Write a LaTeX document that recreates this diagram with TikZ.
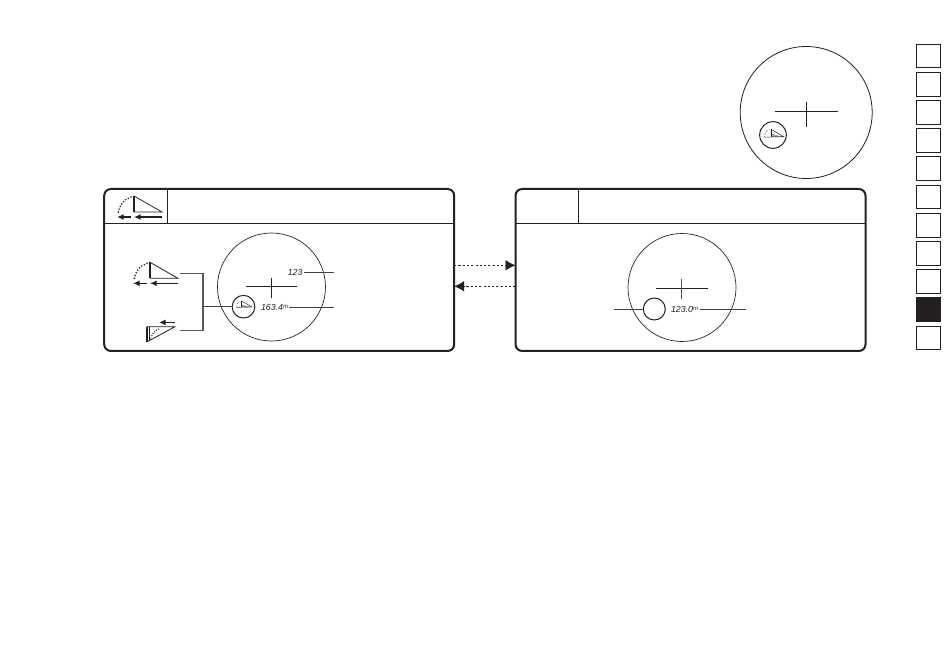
\documentclass[tikz,border=0pt]{standalone}
\usepackage{fontspec}
\setmainfont{Liberation Sans}
\usetikzlibrary{arrows.meta,calc}
\definecolor{ink}{HTML}{231F20}
\tikzset{
  x=0.75pt,y=-0.75pt,
  every node/.style={inner sep=0pt,outer sep=0pt},
  frameboxx/.style={draw=ink,line width=1.5pt,rounded corners=5pt,minimum width=262.5pt,minimum height=121.5pt},
  tabbox/.style={draw=ink,line width=0.8pt,minimum width=17.6pt,minimum height=17.8pt,fill=white},
  tabfill/.style={tabbox,fill=ink},
  scope/.style={draw=ink,line width=0.5pt,circle,minimum size=81pt},
  scopebig/.style={draw=ink,line width=0.6pt,circle,minimum size=99pt},
  badge/.style={draw=ink,line width=0.75pt,circle,minimum size=17pt},
  badgebig/.style={draw=ink,line width=0.75pt,circle,minimum size=20pt},
  thin rule/.style={draw=ink,line width=0.6pt},
  leader/.style={draw=ink!85,line width=0.6pt},
  readout/.style={font=\itshape\fontsize{6.6pt}{7pt}\selectfont,text=ink},
  flow/.style={draw=ink,line width=0.6pt,dash pattern=on 1.6pt off 1.6pt,-{Latex[length=7.5pt,width=8pt]}},
  dotarc/.style={draw=ink,line width=1.35pt,line cap=round,dash pattern=on 0pt off 2.2pt},
  tri/.style={draw=ink,line width=0.6pt},
  post/.style={draw=ink,line width=1.5pt},
  arr/.style={draw=ink,line width=0.9pt,-{Latex[length=5pt,width=4.4pt]}},
  mini/.style={draw=ink,line width=0.35pt}
}
\newcommand{\bigicon}[2]{%
  \begin{scope}[shift={(#1,#2)}]
    \draw[post] (0,0) -- (0,16);
    \draw[tri] (0,0) -- (28,16) -- (0,16);
    \draw[arr] (28,21) -- (0,21);
    \draw[arr] (-3,21) -- (-17,21);
    \draw[dotarc] (-3,1) .. controls (-10,3) and (-15,10) .. (-16,18);
  \end{scope}}
\newcommand{\miniicon}[3]{%
  \begin{scope}[shift={(#1,#2)},scale=#3]
    \fill[ink!40] (0,4) -- (12,7.5) -- (0,7.5) -- cycle;
    \draw[mini] (0,0) -- (0,7.5);
    \draw[mini] (0,0) -- (12,7) -- (-6,7.5);
    \draw[mini,densely dotted] (-1.5,0) .. controls (-4,1) and (-6,4) .. (-6.5,7.5);
  \end{scope}}
\begin{document}
\begin{tikzpicture}
\useasboundingbox (0,0) rectangle (950,670);
% index tabs
\node[tabbox] (t1) at (928.3,56) {};
\node[tabbox] (t2) at (928.3,84.2) {};
\node[tabbox] (t3) at (928.3,112.5) {};
\node[tabbox] (t4) at (928.3,140.5) {};
\node[tabbox] (t5) at (928.3,168.5) {};
\node[tabbox] (t6) at (928.3,197) {};
\node[tabbox] (t7) at (928.3,225.5) {};
\node[tabbox] (t8) at (928.3,253.5) {};
\node[tabbox] (t9) at (928.3,281.5) {};
\node[tabfill] (t10) at (928.3,309.8) {};
\node[tabbox] (t11) at (928.3,338) {};
% top scope
\node[scopebig] (topscope) at (806.2,112.5) {};
\coordinate (tc) at (806.2,111.7);
\draw[thin rule] ($(tc)+(-31,0)$) -- ($(tc)+(31.5,0)$);
\draw[thin rule] ($(tc)+(0,-10)$) -- ($(tc)+(0,15)$);
\node[badgebig] (topbadge) at (773,135) {};
\miniicon{771}{129.3}{1.05}
% frames
\node[frameboxx] (fl) at (279.2,270) {};
\node[frameboxx] (fr) at (690.5,270) {};
\coordinate (flh) at ($(fl.west)+(0,-47)$);
\coordinate (frh) at ($(fr.west)+(0,-47)$);
\draw[thin rule] (flh) -- (flh -| fl.east);
\draw[thin rule] (frh) -- (frh -| fr.east);
\draw[thin rule] (167.5,189) -- (167.5,223);
\draw[thin rule] (578,189) -- (578,223);
% icons
\bigicon{134}{196}
\bigicon{150}{262.3}
% inverted icon
\draw[post] (146.7,326.7) -- (146.7,342);
\draw[tri] (149.2,326.7) -- (149.2,340.5);
\draw[tri] (146.7,326.7) -- (175,326.7) -- (146.7,342);
\draw[arr] (175,322.4) -- (159,322.4);
\draw[dotarc,line width=1.1pt,dash pattern=on 0pt off 1.8pt] (151,338) .. controls (152,334) and (155,330) .. (159,329);
% left scope
\node[scope,minimum size=81pt] (sl) at (271.5,287) {};
\coordinate (cl) at (271.7,286.7);
\draw[thin rule] ($(cl)+(-25.5,0)$) -- ($(cl)+(25.5,0)$);
\draw[thin rule] ($(cl)+(0,-9)$) -- ($(cl)+(0,11)$);
\node[badge] (bl) at (243.5,306.7) {};
\miniicon{241.7}{301}{0.85}
\node[readout,anchor=east] (n123) at (302.5,272) {123};
\node[readout,anchor=west] (n163) at (261,307) {163.4\raisebox{1.5pt}{\fontsize{4.5pt}{5pt}\selectfont m}};
\coordinate (e123) at (334,272);
\coordinate (e163) at (334,307);
\draw[leader] (n123.east) ++(1,0) -- (e123);
\draw[leader] (n163.east) ++(1,0) -- (e163);
% bracket
\coordinate (bt) at (180,273.3);
\coordinate (bb) at (180,330.3);
\coordinate (bm) at (203,306.7);
\draw[draw=ink!75,line width=0.9pt] (bt) -- (bt -| bm) -- (bb -| bm) -- (bb);
\draw[leader] (bm) -- (bl.west);
% right scope
\node[scope] (sr) at (682,287.5) {};
\coordinate (cr) at (681.7,288);
\draw[thin rule] ($(cr)+(-25.5,0)$) -- ($(cr)+(26,0)$);
\draw[draw=ink!75,line width=0.6pt] ($(cr)+(0,-9)$) -- ($(cr)+(0,11)$);
\node[badge,minimum size=16.5pt] (br) at (654.3,309) {};
\node[readout,anchor=west] (n1230) at (671,309) {123.0\raisebox{1.5pt}{\fontsize{4.5pt}{5pt}\selectfont m}};
\coordinate (lr) at (614,309);
\coordinate (er) at (746,309);
\draw[leader] (lr) -- (br.west);
\draw[leader] (n1230.east) ++(2,0) -- (er);
% transfer arrows
\coordinate (a1) at (fl.east |- 0,265.3);
\coordinate (a2) at (fr.west |- 0,265.3);
\coordinate (a3) at (fr.west |- 0,286.3);
\coordinate (a4) at (fl.east |- 0,286.3);
\draw[flow] (a1) -- (a2);
\draw[flow] (a3) -- (a4);
\end{tikzpicture}
\end{document}
